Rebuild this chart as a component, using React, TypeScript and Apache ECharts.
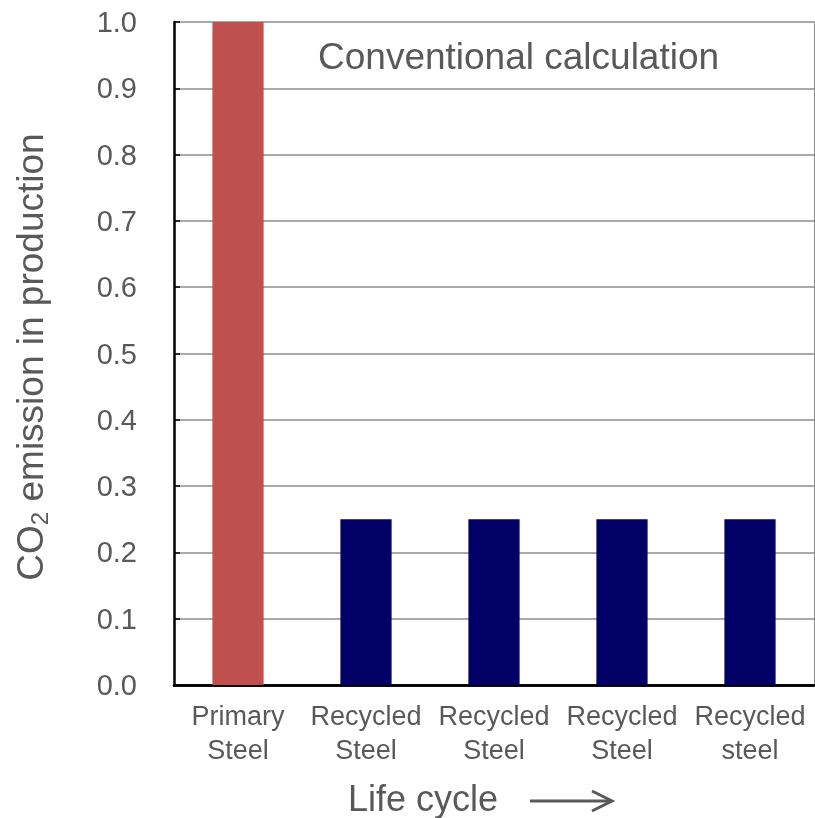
import React, { useEffect, useRef } from "react";
import * as echarts from "echarts";

const categories = ["Primary\nSteel", "Recycled\nSteel", "Recycled\nSteel", "Recycled\nSteel", "Recycled\nsteel"];
const emissions = [1.0, 0.25, 0.25, 0.25, 0.25];
const barColors = ["#C0504D", "#000066", "#000066", "#000066", "#000066"];
const yMin = 0;
const yMax = 1.0;
const yInterval = 0.1;
const titleText = "Conventional calculation";
const xName = "Life cycle";
const yName = "{a|CO}{s|2}{a| emission in production}";

const FONT = "Liberation Sans, Arial, sans-serif";
const TXT = "#595959";

export default function App() {
  const ref = useRef<HTMLDivElement>(null);
  useEffect(() => {
    if (!ref.current) return;
    const chart = echarts.init(ref.current, undefined, { renderer: "svg" });
    chart.setOption({
      animation: false,
      textStyle: { fontFamily: FONT },
      grid: { left: 174, right: 1, top: 22, bottom: 133, containLabel: false, outerBoundsMode: "none" },
      xAxis: [
        {
          type: "category",
          data: categories,
          axisLine: { lineStyle: { color: "#000", width: 2.5 } },
          axisTick: { show: false },
          axisLabel: { color: TXT, fontSize: 27, lineHeight: 34, margin: 14, fontFamily: FONT, interval: 0 },
        },
        {
          type: "category",
          position: "top",
          data: categories,
          axisLine: { lineStyle: { color: "#000", width: 2.5 } },
          axisTick: { show: false },
          axisLabel: { show: false },
        },
      ],
      yAxis: [
        {
          type: "value",
          min: yMin,
          max: yMax,
          interval: yInterval,
          axisLine: { show: true, lineStyle: { color: "#000", width: 2.5 } },
          axisTick: { show: true, inside: true, length: 6, lineStyle: { color: "#000", width: 1.5 } },
          splitLine: { show: true, lineStyle: { color: "#8c8c8c", width: 1.5 } },
          axisLabel: {
            color: TXT,
            fontSize: 29,
            margin: 37,
            fontFamily: FONT,
            formatter: (v: number) => v.toFixed(1),
          },
        },
        {
          type: "value",
          position: "right",
          min: yMin,
          max: yMax,
          interval: yInterval,
          axisLine: { show: true, lineStyle: { color: "#8c8c8c", width: 1 } },
          axisTick: { show: false },
          axisLabel: { show: false },
          splitLine: { show: false },
        },
      ],
      series: [
        {
          type: "bar",
          data: emissions.map((v, i) => ({ value: v, itemStyle: { color: barColors[i] } })),
          barWidth: "40%",
          xAxisIndex: 0,
          yAxisIndex: 0,
        },
      ],
      graphic: [
        {
          type: "text",
          x: 30,
          y: 357,
          rotation: Math.PI / 2,
          style: {
            text: yName,
            align: "center",
            verticalAlign: "middle",
            fill: TXT,
            fontFamily: FONT,
            rich: {
              a: { fontSize: 37, fill: TXT, fontFamily: FONT, lineHeight: 42 },
              s: { fontSize: 24, fill: TXT, fontFamily: FONT, lineHeight: 24, verticalAlign: "bottom" },
            },
          },
        },
        {
          type: "text",
          left: 318,
          top: 38,
          style: { text: titleText, fill: TXT, fontSize: 37, fontFamily: FONT },
        },
        {
          type: "text",
          x: 348,
          y: 798,
          style: { text: xName, fill: TXT, fontSize: 36, fontFamily: FONT, verticalAlign: "middle", align: "left" },
        },
        {
          type: "line",
          shape: { x1: 530, y1: 801, x2: 611, y2: 801 },
          style: { stroke: TXT, lineWidth: 3 },
        },
        {
          type: "polyline",
          shape: { points: [[592, 791], [612, 801], [592, 811]] },
          style: { stroke: TXT, lineWidth: 3, fill: null },
        },
      ],
    });
    return () => chart.dispose();
  }, []);
  return (
    <div
      ref={ref}
      style={{ position: "fixed", left: 0, top: 0, width: 815, height: 818 }}
    />
  );
}
